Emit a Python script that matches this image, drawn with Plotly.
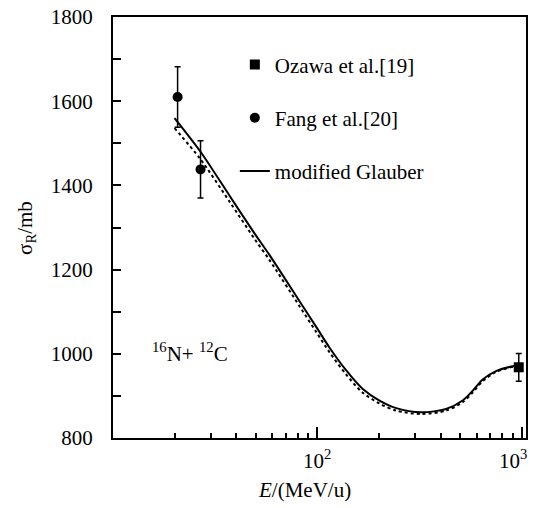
import math
import plotly.graph_objects as go

# ---- data ----
ozawa_E = [965]
ozawa_sigma = [968]
ozawa_err = [33]

fang_E = [20.7, 26.8]
fang_sigma = [1610, 1438]
fang_err = [72, 68]

glauber_E = [20.0, 26.8, 37.1, 49.2, 58.2, 81.7, 98.6, 114.4, 138, 166, 201, 243, 321, 426, 513, 574, 643, 747, 918, 965]
glauber_sigma = [1560, 1480, 1376, 1286, 1235, 1125, 1064, 1015, 961, 917, 889, 871, 861, 869, 889, 912, 939, 959, 971, 972]

dotted_E = [20.0, 26.8, 37.1, 49.2, 58.2, 81.7, 98.6, 114.4, 138, 166, 201, 243, 321, 426, 513, 574, 643, 747, 918, 965]
dotted_sigma = [1536, 1462, 1362, 1273, 1223, 1113, 1052, 1004, 951, 908, 882, 865, 857, 865, 885, 908, 935, 957, 970, 971]

x_tick_vals = [100, 1000]
x_tick_text = ["10<sup>2</sup>", "10<sup>3</sup>"]
y_tick_vals = [800, 1000, 1200, 1400, 1600, 1800]

FONT = "Liberation Serif, Times New Roman, serif"
FS = 21

fig = go.Figure()

fig.add_trace(go.Scatter(
    x=ozawa_E, y=ozawa_sigma, mode="markers", name="Ozawa et al.[19]",
    legendgroup="a",
    marker=dict(symbol="square", size=10, color="black"),
    error_y=dict(type="data", array=ozawa_err, visible=True, color="black", thickness=1.5, width=3),
))
fig.add_trace(go.Scatter(
    x=fang_E, y=fang_sigma, mode="markers", name="Fang et al.[20]",
    legendgroup="b",
    marker=dict(symbol="circle", size=10, color="black"),
    error_y=dict(type="data", array=fang_err, visible=True, color="black", thickness=1.5, width=3),
))
fig.add_trace(go.Scatter(
    x=glauber_E, y=glauber_sigma, mode="lines", name="modified Glauber",
    legendgroup="c",
    line=dict(color="black", width=2, shape="spline", smoothing=0.8),
))
fig.add_trace(go.Scatter(
    x=dotted_E, y=dotted_sigma, mode="lines", showlegend=False,
    line=dict(color="black", width=2, dash="dot", shape="spline", smoothing=0.8),
))

fig.update_xaxes(
    type="log", range=[1, 3.02],
    showline=True, linecolor="black", linewidth=2, mirror=True,
    ticks="inside", ticklen=11, tickwidth=1.5, tickcolor="black",
    tickvals=x_tick_vals, showticklabels=False,
    minor=dict(ticks="inside", ticklen=5, tickwidth=1.5, tickcolor="black", dtick="D1", showgrid=False),
    showgrid=False, zeroline=False,
)
fig.update_yaxes(
    range=[800, 1800],
    showline=True, linecolor="black", linewidth=2, mirror=True,
    ticks="inside", ticklen=8, tickwidth=1.5, tickcolor="black",
    tickvals=y_tick_vals, ticklabelstandoff=14, ticklabeloverflow="allow",
    tickfont=dict(family=FONT, size=FS, color="black"),
    minor=dict(ticks="inside", ticklen=8, tickwidth=1.5, tickcolor="black", dtick=100, showgrid=False),
    showgrid=False, zeroline=False,
)

annotations = []
for v, t in zip(x_tick_vals, x_tick_text):
    annotations.append(dict(
        x=math.log10(v), y=0, xref="x", yref="paper", text=t, showarrow=False,
        xanchor="center" if v < 1000 else "right", xshift=0 if v < 1000 else 7,
        yanchor="top", yshift=-6,
        font=dict(family=FONT, size=FS, color="black"),
    ))
annotations.append(dict(
    x=0.464, y=-0.124, xref="paper", yref="paper", yanchor="middle", xanchor="center",
    text="<i>E</i>/(MeV/u)", showarrow=False,
    font=dict(family=FONT, size=FS, color="black"),
))
annotations.append(dict(
    x=-0.212, y=0.5, xref="paper", yref="paper", xanchor="center", yanchor="middle",
    text="σ<sub>R</sub>/mb", showarrow=False, textangle=-90,
    font=dict(family=FONT, size=FS, color="black"),
))
annotations.append(dict(
    x=0.089, y=0.202, xref="paper", yref="paper", xanchor="left", yanchor="middle",
    text="<sup>16</sup>N+ <sup>12</sup>C", showarrow=False,
    font=dict(family=FONT, size=FS, color="black"),
))

fig.update_layout(
    width=533, height=508,
    margin=dict(l=113, r=5, t=10, b=70),
    paper_bgcolor="white", plot_bgcolor="white",
    font=dict(family=FONT, size=FS, color="black"),
    showlegend=True,
    legend=dict(
        x=0.295, y=0.935, xanchor="left", yanchor="top",
        bgcolor="rgba(0,0,0,0)", tracegroupgap=23,
        font=dict(family=FONT, size=FS, color="black"),
    ),
    annotations=annotations,
)

fig.write_html(
    "out.html",
    config={"displayModeBar": False},
    post_script="document.body.style.margin='0';document.body.style.overflow='hidden';",
)
